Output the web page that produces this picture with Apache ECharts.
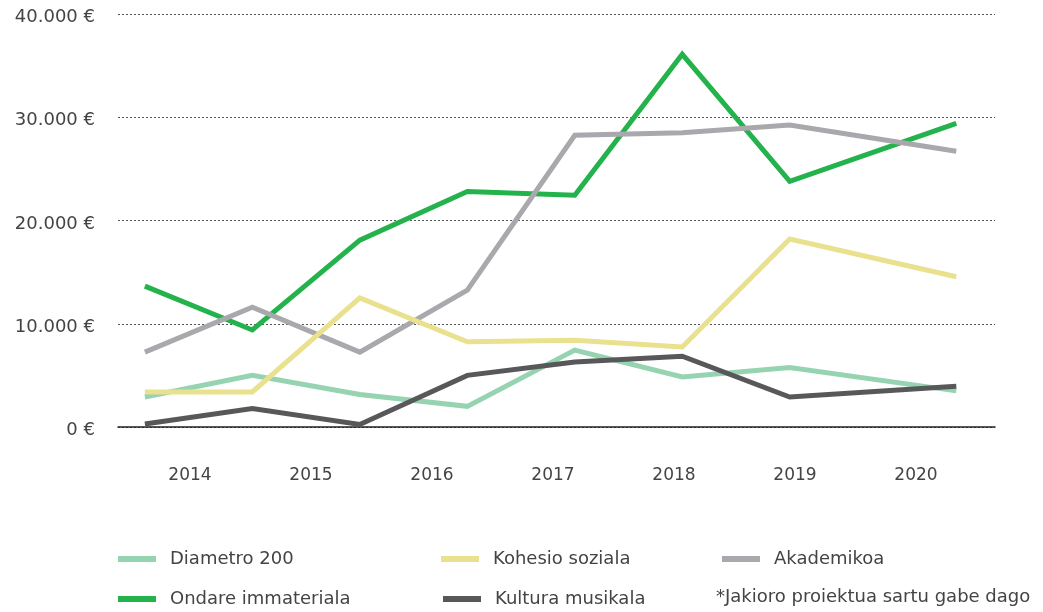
<!DOCTYPE html>
<html>
<head>
<meta charset="utf-8">
<script src="https://cdn.jsdelivr.net/npm/echarts@6/dist/echarts.min.js"></script>
<style>
  html, body { margin: 0; padding: 0; background: #fff; }
  #chart { width: 1043px; height: 612px; }
</style>
</head>
<body>
<div id="chart"></div>
<script>
// years shown under the axis
const years = ['2014', '2015', '2016', '2017', '2018', '2019', '2020']
// horizontal position of each data point (the last one sits further out)
const steps = [0, 1, 2, 3, 4, 5, 6, 7.55]

const diametro = [2900, 5000, 3150, 2000, 7450, 4850, 5750, 3500]
const kohesio = [3400, 3400, 12500, 8250, 8400, 7750, 18200, 14550]
const akademikoa = [7250, 11600, 7250, 13250, 28250, 28500, 29250, 26700]
const ondare = [13650, 9400, 18100, 22800, 22450, 36100, 23800, 29400]
const kultura = [300, 1800, 250, 5000, 6300, 6850, 2900, 3950]

const yTicks = [0, 10000, 20000, 30000, 40000]

const font = 'DejaVu Sans'
const textColor = '#444'

function pairs(values) {
  return values.map((v, i) => [steps[i], v])
}

function money(v) {
  return '{v|' + String(v).replace(/\B(?=(\d{3})+(?!\d))/g, '.') + ' €}'
}

function line(name, values, color) {
  return {
    name: name,
    type: 'line',
    data: pairs(values),
    symbol: 'none',
    color: color,
    lineStyle: { width: 5, color: color, join: 'miter', cap: 'butt' },
    animation: false
  }
}

function legendAt(name, left, top) {
  return {
    data: [name],
    left: left,
    top: top,
    padding: 0,
    icon: 'rect',
    itemWidth: 38,
    itemHeight: 6,
    selectedMode: false,
    textStyle: { fontFamily: font, fontSize: 18, color: textColor, padding: [0, 0, 0, 9] }
  }
}

const chart = echarts.init(document.getElementById('chart'))
chart.setOption({
  backgroundColor: '#fff',
  grid: [
    { left: 118, right: 48, top: 14, bottom: 185 },
    { left: 129.5, right: 66.5, top: 14, bottom: 185 }
  ],
  xAxis: [
    {
      type: 'value',
      gridIndex: 0,
      min: -0.25,
      max: 7.91,
      axisLabel: { show: false },
      axisTick: { show: false },
      splitLine: { show: false },
      axisLine: { show: true, lineStyle: { color: '#222', width: 1.5 } }
    },
    {
      type: 'category',
      gridIndex: 1,
      data: years,
      axisLine: { show: false },
      axisTick: { show: false },
      axisLabel: { margin: 40, fontFamily: font, fontSize: 17, color: textColor }
    }
  ],
  yAxis: [
    {
      type: 'value',
      gridIndex: 0,
      min: yTicks[0],
      max: yTicks[yTicks.length - 1],
      interval: 10000,
      axisLine: { show: false },
      axisTick: { show: false },
      axisLabel: {
        margin: 23,
        formatter: money,
        rich: {
          v: { fontFamily: font, fontSize: 18, color: textColor, padding: [7, 0, 0, 0] }
        }
      },
      splitLine: { show: true, lineStyle: { color: '#555', type: [2, 2], width: 1 } }
    },
    {
      type: 'value',
      gridIndex: 1,
      show: false
    }
  ],
  legend: [
    legendAt('Diametro 200', 118, 550),
    legendAt('Kohesio soziala', 441, 550),
    legendAt('Akademikoa', 722, 550),
    legendAt('Ondare immateriala', 118, 590),
    legendAt('Kultura musikala', 443, 590)
  ],
  graphic: [
    {
      type: 'text',
      left: 716,
      top: 588,
      style: { text: '*Jakioro proiektua sartu gabe dago', font: '18px "DejaVu Sans"', fill: textColor }
    }
  ],
  series: [
    line('Ondare immateriala', ondare, '#23b24b'),
    line('Diametro 200', diametro, '#96d3b1'),
    line('Akademikoa', akademikoa, '#a9a9ad'),
    line('Kohesio soziala', kohesio, '#e9e18e'),
    line('Kultura musikala', kultura, '#58585a')
  ]
})
</script>
</body>
</html>
